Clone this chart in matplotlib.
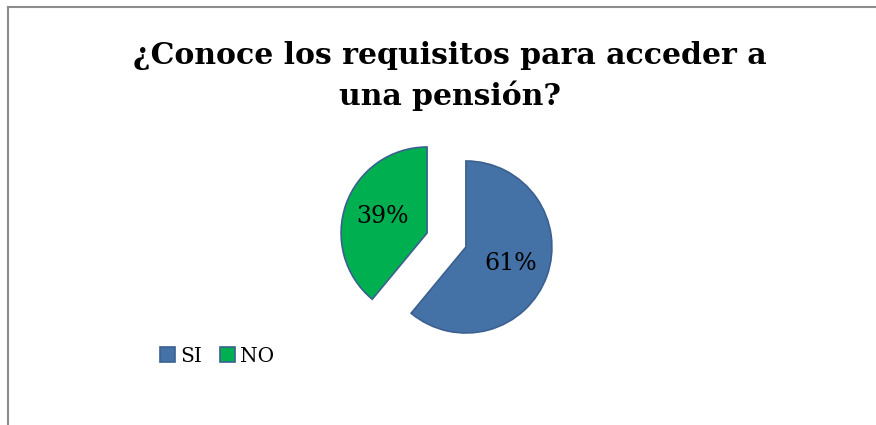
import matplotlib.pyplot as plt
from matplotlib.lines import Line2D

# data
labels = ['SI', 'NO']
values = [61, 39]
colors = ['#4472A6', '#00B050']
title = '¿Conoce los requisitos para acceder a\nuna pensión?'

W, H = 876, 425
plt.rcParams['font.family'] = ['DejaVu Serif']

fig = plt.figure(figsize=(W / 100, H / 100), dpi=100)
ax = fig.add_axes([0, 0, 1, 1])

# pie center/radius in pixels
cx, cy, r = 446.5, 240, 86
wedges, texts, autotexts = ax.pie(
    values, colors=colors, startangle=90, counterclock=False,
    explode=[0.24, 0.24],
    wedgeprops=dict(edgecolor='#3B6090', linewidth=1.2),
    autopct=lambda p: '%d%%' % round(p), pctdistance=0.55,
    textprops=dict(fontsize=17, color='black'),
)
ax.set_aspect('auto')
ax.set_xlim(-cx / r, (W - cx) / r)
ax.set_ylim(-(H - cy) / r, cy / r)
ax.axis('off')

fig.text(450 / W, 1 - 76 / H, title, ha='center', va='center',
         fontsize=21.5, fontweight='bold', linespacing=1.4)

fig.legend(wedges, labels, loc='center', bbox_to_anchor=(217 / W, 1 - 356 / H),
           ncol=2, frameon=False, fontsize=14.5, handlelength=0.75,
           handleheight=0.75, handletextpad=0.25, columnspacing=0.9)

# chart frame (left and top edges visible)
fig.add_artist(Line2D([8 / W, 8 / W], [0, 1 - 7 / H], transform=fig.transFigure,
                      color='#8C8C8C', linewidth=1.5))
fig.add_artist(Line2D([8 / W, 1], [1 - 7 / H, 1 - 7 / H], transform=fig.transFigure,
                      color='#8C8C8C', linewidth=1.5))

fig.savefig('out.png', dpi=100, facecolor='white')
